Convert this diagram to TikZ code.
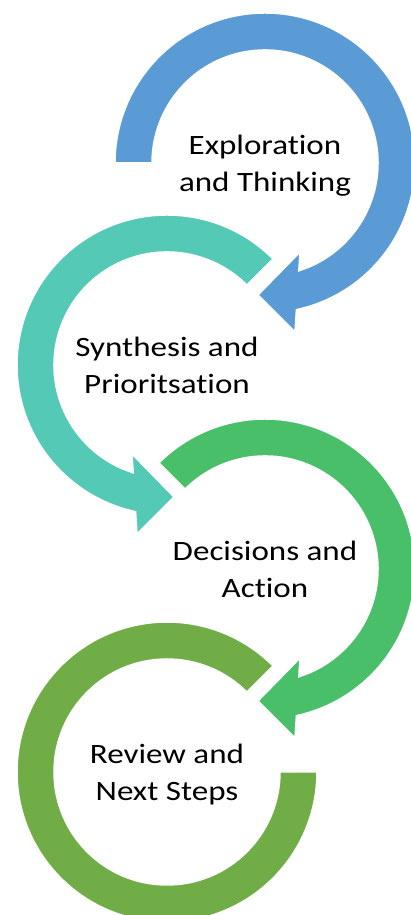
\documentclass[tikz,border=0pt]{standalone}
\usepackage{fontspec}
\setmainfont{Carlito}[FakeStretch=1.18, Ligatures={NoCommon}]
\definecolor{cblue}{HTML}{5B9BD5}
\definecolor{cteal}{HTML}{53C9B6}
\definecolor{cgreen}{HTML}{49BF69}
\definecolor{colive}{HTML}{70AD47}
\begin{document}
\begin{tikzpicture}[x=1pt,y=1pt]
\useasboundingbox (0,0) rectangle (411,915);
\tikzset{
  ringshape/.style={draw=white, line width=1.5pt, line join=miter},
  steptext/.style={font=\fontsize{28}{37}\selectfont, align=center, text=black, inner sep=0pt}
}
\def\ArrowRing#1{(#1:150) arc[start angle=#1, end angle=-77.9, radius=150] -- (30,-169) -- (-7,-132) -- (35,-89) -- (33.8,-107.8) arc[start angle=-72.6, end angle=#1, radius=113] -- cycle}
\begin{scope}[shift={(265,752)}]
  \path[ringshape, fill=cblue] \ArrowRing{180};
\end{scope}
\begin{scope}[shift={(167,550)}, xscale=-1]
  \path[ringshape, fill=cteal] \ArrowRing{135};
\end{scope}
\begin{scope}[shift={(265,346)}]
  \path[ringshape, fill=cgreen] \ArrowRing{135};
\end{scope}
\begin{scope}[shift={(167,143)}, xscale=-1]
  \path[ringshape, fill=colive] (135:150) arc[start angle=135, end angle=-180, radius=150] -- (-180:113) arc[start angle=-180, end angle=135, radius=113] -- cycle;
\end{scope}
\node[steptext, yshift=-3pt] (t1) at (265,752) {Exploration\\and Thinking};
\node[steptext] (t2) at (167,550) {Synthesis and\\Prioritsation};
\node[steptext] (t3) at (265,346) {Decisions and\\Action};
\node[steptext, yshift=-3pt] (t4) at (167,143) {Review and\\Next Steps};
\end{tikzpicture}
\end{document}
